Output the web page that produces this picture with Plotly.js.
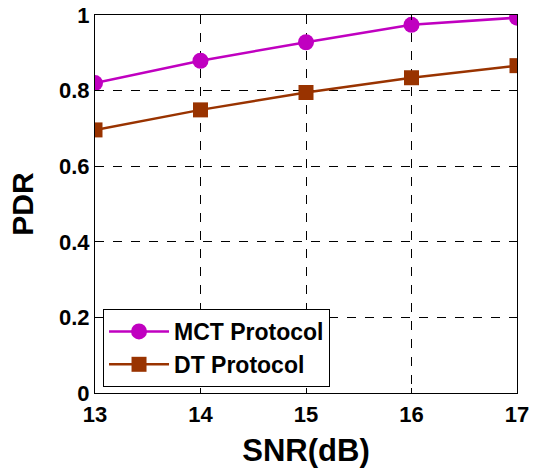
<!DOCTYPE html>
<html><head><meta charset="utf-8">
<script src="https://cdn.plot.ly/plotly-3.0.1.min.js"></script>
<style>body{margin:0;background:#fff}#c{width:542px;height:470px}</style>
</head><body><div id="c"></div>
<script>
const snr = [13, 14, 15, 16, 17];
const mctPdr = [0.820, 0.879, 0.928, 0.974, 0.993];
const dtPdr = [0.696, 0.749, 0.795, 0.834, 0.866];
const xTicks = [13, 14, 15, 16, 17];
const yTicks = [0, 0.2, 0.4, 0.6, 0.8, 1];
const yTickText = ['0', '0.2', '0.4', '0.6', '0.8', '1'];

const font = 'Arial, "Liberation Sans", sans-serif';
const traces = [
  {x: snr, y: mctPdr, name: 'MCT Protocol', mode: 'lines+markers',
   line: {color: '#C000C0', width: 2.5}, marker: {symbol: 'circle', size: 16, color: '#C000C0'}},
  {x: snr, y: dtPdr, name: 'DT Protocol', mode: 'lines+markers',
   line: {color: '#993300', width: 2.5}, marker: {symbol: 'square', size: 15, color: '#993300'}}
];
const axisCommon = {
  showline: true, linecolor: '#000', linewidth: 1, mirror: 'ticks',
  ticks: 'inside', ticklen: 5, tickcolor: '#000',
  showgrid: true, gridcolor: '#000', gridwidth: 1, griddash: 'dash',
  zeroline: false, tickfont: {family: font, size: 22, color: '#000', weight: 'bold'}
};
const layout = {
  width: 542, height: 470,
  margin: {l: 95, r: 25, t: 15, b: 77},
  paper_bgcolor: '#fff', plot_bgcolor: '#fff',
  font: {family: font, color: '#000'},
  xaxis: Object.assign({}, axisCommon, {
    range: [13, 17], tickvals: xTicks, ticktext: xTicks.map(String), ticklabelstandoff: 2,
    title: {text: 'SNR(dB)', font: {family: font, size: 31, weight: 'bold', color: '#000'}, standoff: 12}
  }),
  yaxis: Object.assign({}, axisCommon, {
    range: [0, 1], tickvals: yTicks, ticktext: yTickText,
    title: {text: 'PDR', font: {family: font, size: 30, weight: 'bold', color: '#000'}, standoff: 16}
  }),
  legend: {x: 0.019, y: 0.016, xanchor: 'left', yanchor: 'bottom',
    bordercolor: '#000', borderwidth: 1, bgcolor: '#fff', itemwidth: 60,
    font: {family: font, size: 23, weight: 'bold', color: '#000'}},
  showlegend: true
};
Plotly.newPlot('c', traces, layout, {displayModeBar: false, staticPlot: true});
</script></body></html>
